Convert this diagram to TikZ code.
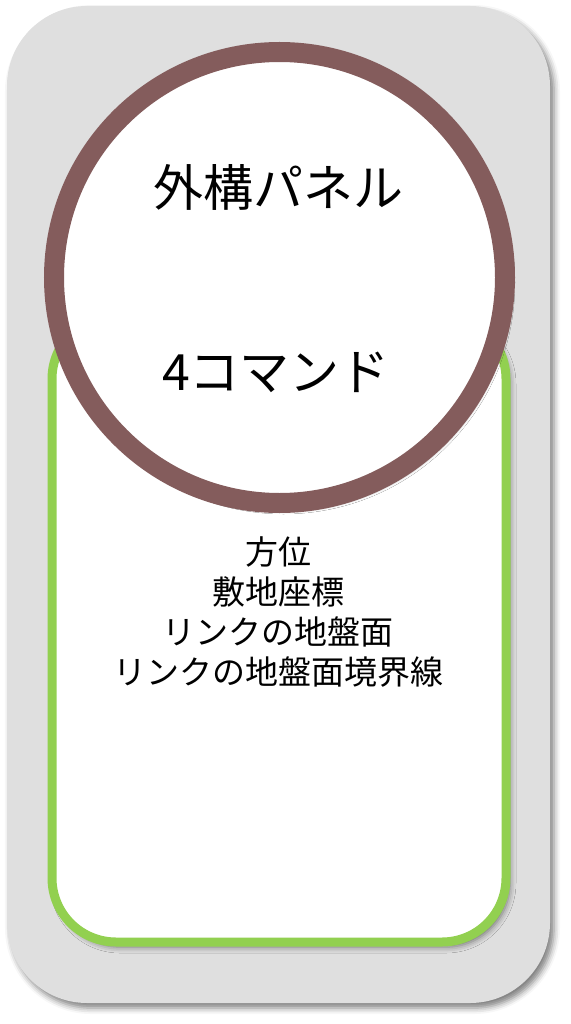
\documentclass[tikz,border=0pt]{standalone}
\usepackage{fontspec}
\usepackage{tikz}
\usetikzlibrary{shadows.blur}
\newfontfamily\jpfont{Noto Sans CJK JP}
\definecolor{panelgray}{HTML}{DFDFDF}
\definecolor{ringbrown}{HTML}{845C5C}
\definecolor{boxgreen}{HTML}{92D050}

\begin{document}
\begin{tikzpicture}[x=1pt, y=-1pt,
    softshadow/.style={blur shadow={shadow xshift=4pt, shadow yshift=-5pt, shadow blur radius=6pt, shadow opacity=50}},
    panel/.style={rectangle, rounded corners=80pt, fill=panelgray, softshadow, inner sep=0pt},
    listbox/.style={rectangle, rounded corners=64pt, draw=boxgreen, line width=9pt, fill=white, softshadow, inner sep=0pt},
    ring/.style={circle, draw=ringbrown, line width=20pt, fill=white, softshadow, inner sep=0pt},
    bigtext/.style={font=\jpfont\fontsize{50}{60}\selectfont, inner sep=0pt},
    smalltext/.style={font=\jpfont\fontsize{33}{40}\selectfont, align=center, inner sep=0pt}]
                \useasboundingbox (0,0) rectangle (570,1024);
                \node[panel, minimum width=543pt, minimum height=997pt] (outer) at (278.5, 504.5) {};
                \node[listbox, minimum width=454pt, minimum height=627pt] (items) at (279, 628.5) {};
                \node[ring, minimum size=451pt] (title) at (279.5, 277.5) {};
                \node[bigtext] (name) at (278, 187) {外構パネル};
                \node[bigtext] (count) at (276, 372) {4コマンド};
                \node[smalltext] (list) at (278, 612) {方位\\敷地座標\\リンクの地盤面\\リンクの地盤面境界線};
            \end{tikzpicture}
\end{document}
